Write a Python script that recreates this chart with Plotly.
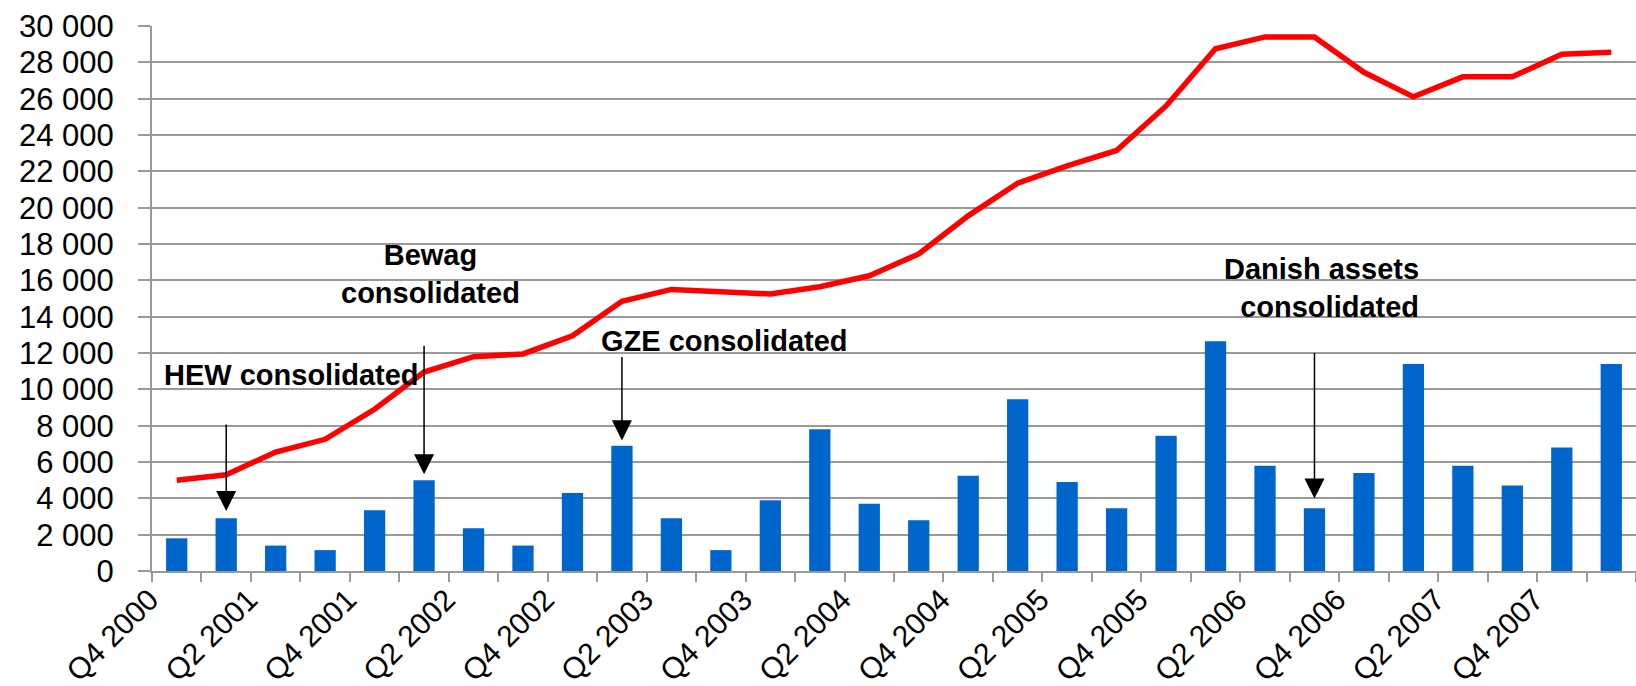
import plotly.graph_objects as go

# ---- data ----
quarters = ["Q4 2000", "Q1 2001", "Q2 2001", "Q3 2001", "Q4 2001", "Q1 2002", "Q2 2002", "Q3 2002",
            "Q4 2002", "Q1 2003", "Q2 2003", "Q3 2003", "Q4 2003", "Q1 2004", "Q2 2004", "Q3 2004",
            "Q4 2004", "Q1 2005", "Q2 2005", "Q3 2005", "Q4 2005", "Q1 2006", "Q2 2006", "Q3 2006",
            "Q4 2006", "Q1 2007", "Q2 2007", "Q3 2007", "Q4 2007", "Q1 2008"]

bar_values = [1800, 2900, 1400, 1150, 3350, 5000, 2350, 1400, 4300, 6900,
              2900, 1150, 3900, 7800, 3700, 2800, 5250, 9450, 4900, 3450,
              7450, 12650, 5800, 3450, 5400, 11400, 5800, 4700, 6800, 11400]

line_values = [5000, 5300, 6550, 7250, 8900, 10950, 11800, 11950, 12950, 14850,
               15500, 15400, 15250, 15650, 16250, 17450, 19550, 21350, 22300, 23150,
               25600, 28750, 29400, 29400, 27450, 26100, 27200, 27200, 28450, 28550]

tick_labels = [q if i % 2 == 0 else "" for i, q in enumerate(quarters)]
y_ticks = list(range(0, 30001, 2000))

# annotation texts
notes = [
    # text, x (category index), y (value), xanchor, align
    ("<b>HEW consolidated</b>", -0.29, 10770, "left", "left"),
    ("<b>Bewag<br>consolidated</b>", 5.14, 16330, "center", "center"),
    ("<b>GZE consolidated</b>", 8.53, 12660, "left", "left"),
    ("<b>Danish assets<br>consolidated</b>", 25.16, 15600, "right", "right"),
]
# arrows: category index, tip value, length in px
arrows = [(1, 3300, 88), (5, 5320, 130), (9, 7190, 85), (23, 3985, 147)]

FONT = "Liberation Sans, Arial, sans-serif"
GRID = "#999999"

fig = go.Figure()
fig.add_trace(go.Bar(x=quarters, y=bar_values, marker=dict(color="#0066CC", line=dict(width=0))))
fig.add_trace(go.Scatter(x=quarters, y=line_values, mode="lines",
                         line=dict(color="#FF0000", width=5.5)))

for text, xi, yv, xa, al in notes:
    fig.add_annotation(x=xi, y=yv, xref="x", yref="y", text=text, showarrow=False,
                       xanchor=xa, yanchor="middle", align=al,
                       font=dict(family=FONT, size=29, color="black"))

for xi, yv, length in arrows:
    fig.add_annotation(x=xi, y=yv, xref="x", yref="y", text="", showarrow=True,
                       ax=0, ay=-length, arrowhead=2, arrowsize=2.67, arrowwidth=1.5,
                       arrowcolor="black", standoff=0)

fig.update_layout(
    width=1636, height=686,
    margin=dict(l=152, r=0, t=26, b=115, pad=0, autoexpand=False),
    plot_bgcolor="white", paper_bgcolor="white",
    showlegend=False, bargap=0.57,
    separators=". ",
    font=dict(family=FONT, color="black"),
)
fig.update_xaxes(type="category", tickmode="array", tickvals=quarters, ticktext=tick_labels,
                 tickangle=-45, ticks="outside", ticklen=9, tickwidth=2, tickcolor=GRID,
                 tickson="boundaries", showline=True, linecolor=GRID, linewidth=2,
                 showgrid=False, tickfont=dict(family=FONT, size=30, color="black"),
                 ticklabelshift=-27, ticklabelstandoff=-3, range=[-0.5, 29.5],
                 automargin=False)
fig.update_yaxes(range=[0, 30000], tickmode="array", tickvals=y_ticks, tickformat=",",
                 showgrid=True, gridcolor=GRID, gridwidth=2, zeroline=False,
                 ticks="outside", ticklen=12, tickwidth=2, tickcolor=GRID,
                 showline=True, linecolor=GRID, linewidth=2,
                 tickfont=dict(family=FONT, size=31, color="black"), ticklabelstandoff=18,
                 automargin=False)

fig.write_html("out.html", config={"displayModeBar": False},
               post_script="document.body.style.margin='0';document.body.style.overflow='hidden';")
